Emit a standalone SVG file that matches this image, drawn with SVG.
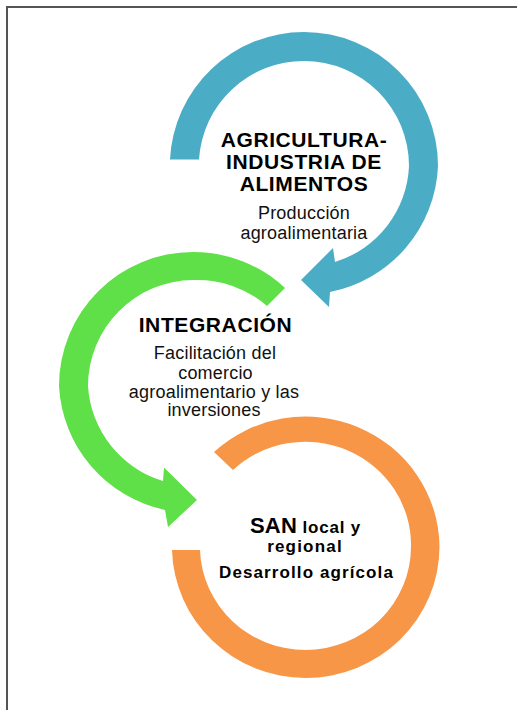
<svg xmlns="http://www.w3.org/2000/svg" width="517" height="710" viewBox="0 0 517 710">
<style>
.h{font-family:"Liberation Sans",Arial,sans-serif;font-weight:bold;font-size:21px;fill:#000;text-anchor:middle;letter-spacing:0.6px}
.s{font-family:"Liberation Sans",Arial,sans-serif;font-size:18px;fill:#111;text-anchor:middle;letter-spacing:0.2px}
.b{font-family:"Liberation Sans",Arial,sans-serif;font-weight:bold;font-size:17px;fill:#000;text-anchor:middle;letter-spacing:1.1px}
</style>
<rect width="517" height="710" fill="#fff"/>
<path d="M7,710 V7 H517" fill="none" stroke="#555" stroke-width="2"/>
<g id="connectors">
<path id="arrow-blue" fill="#4BACC6" d="M170,159.5 A134,134 0 0 1 304,32 A134,134 0 0 1 438,166 A134,134 0 0 1 330,292 L329,307 L301,280 L333,248 L335,262 A105,105 0 0 0 409,166 A105,105 0 0 0 304,61 A105,105 0 0 0 199,159.5 Z"/>
<path id="arrow-green" fill="#5FE049" d="M285,288 A134,134 0 0 0 193,252 A134,134 0 0 0 59,386 A134,134 0 0 0 165,510 L168,527 L197,500 L164,467.5 L163,481 A106,106 0 0 1 88,386 A106,106 0 0 1 193,280 A106,106 0 0 1 267,306 Z"/>
<path id="ring-orange" fill="#F79646" d="M214,452 A134,131.5 0 0 1 439.5,546.5 A134,131.5 0 0 1 305.5,678 A134,131.5 0 0 1 172,550 L200,550 A105.5,103.5 0 0 0 305.5,650 A105.5,103.5 0 0 0 411,546.5 A105.5,103.5 0 0 0 233,470 Z"/>
</g>
<g id="node-agricultura">
<text class="h" x="304" y="146.5">AGRICULTURA-</text>
<text class="h" x="304" y="169">INDUSTRIA DE</text>
<text class="h" x="304" y="190.5">ALIMENTOS</text>
<text class="s" x="304" y="219">Producción</text>
<text class="s" x="304" y="238.5">agroalimentaria</text>
</g>
<g id="node-integracion">
<text class="h" x="215.5" y="331.7">INTEGRACIÓN</text>
<text class="s" x="215" y="359.3">Facilitación del</text>
<text class="s" x="215.5" y="379">comercio</text>
<text class="s" x="214" y="397.5">agroalimentario y las</text>
<text class="s" x="214" y="416">inversiones</text>
</g>
<g id="node-san">
<text x="305.5" y="533.3" class="b"><tspan style="font-size:22px;letter-spacing:0.2px">SAN</tspan><tspan style="letter-spacing:0.8px"> local y</tspan></text>
<text class="b" x="305" y="551.7" style="letter-spacing:1.2px">regional</text>
<text class="b" x="306.5" y="578.3">Desarrollo agrícola</text>
</g>
</svg>
